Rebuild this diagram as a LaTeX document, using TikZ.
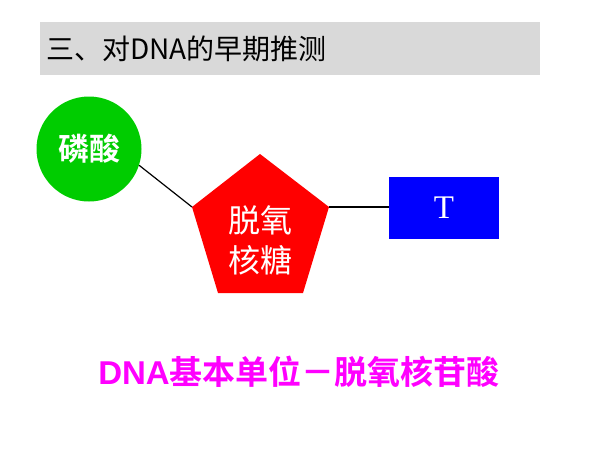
\documentclass[tikz,border=0pt]{standalone}
\usepackage{fontspec}
\newfontfamily\cjk{Noto Sans CJK SC}[BoldFont={Noto Sans CJK SC Bold}]
\newfontfamily\arialb{Liberation Sans}
\newfontfamily\serifT{Liberation Serif}
\definecolor{bargray}{HTML}{D9D9D9}
\definecolor{pgreen}{HTML}{00CC00}
\definecolor{pred}{HTML}{FF0000}
\definecolor{pblue}{HTML}{0000FF}
\definecolor{pmag}{HTML}{FF00FF}
\tikzset{
  conn/.style={draw=black, line width=1.2pt},
  bigtxt/.style={font=\fontsize{30}{36}\selectfont\cjk, text=white, inner sep=0pt}
}
\begin{document}
\begin{tikzpicture}[x=1pt,y=-1pt]
\useasboundingbox (0,0) rectangle (600,450);
% title bar
\node[fill=bargray, minimum width=500pt, minimum height=53pt, anchor=north west, inner sep=0pt] (bar) at (40,22) {};
\node[anchor=west, inner sep=0pt, font=\fontsize{28}{32}\selectfont\cjk] (title) at (46,49) {三、对DNA的早期推测};
% phosphate
\node[circle, fill=pgreen, minimum size=105pt, inner sep=0pt, font=\fontsize{31}{36}\selectfont\cjk\bfseries, text=white] (c) at (89,149) {磷酸};
% pentagon
\coordinate (pt) at (260,154);
\coordinate (pr) at (329,207);
\coordinate (pbr) at (303,293);
\coordinate (pbl) at (218,293);
\coordinate (pl) at (192,207);
\fill[pred] (pt) -- (pr) -- (pbr) -- (pbl) -- (pl) -- cycle;
\node[bigtxt, align=center, font=\fontsize{32}{40}\selectfont\cjk] (sugar) at (260,240) {脱氧\\核糖};
% base
\node[fill=pblue, minimum width=110pt, minimum height=62pt, inner sep=0pt, text=white, font=\fontsize{33}{36}\selectfont\serifT] (r) at (444,208) {T};
% connectors
\draw[conn] (c.-18) -- (pl);
\draw[conn] (pr) -- (pr -| r.west);
% bottom text
\node[inner sep=0pt, text=pmag, font=\fontsize{33}{36}\selectfont\bfseries] (bottom) at (299,372) {{\arialb DNA}{\cjk 基本单位－脱氧核苷酸}};
\end{tikzpicture}
\end{document}
